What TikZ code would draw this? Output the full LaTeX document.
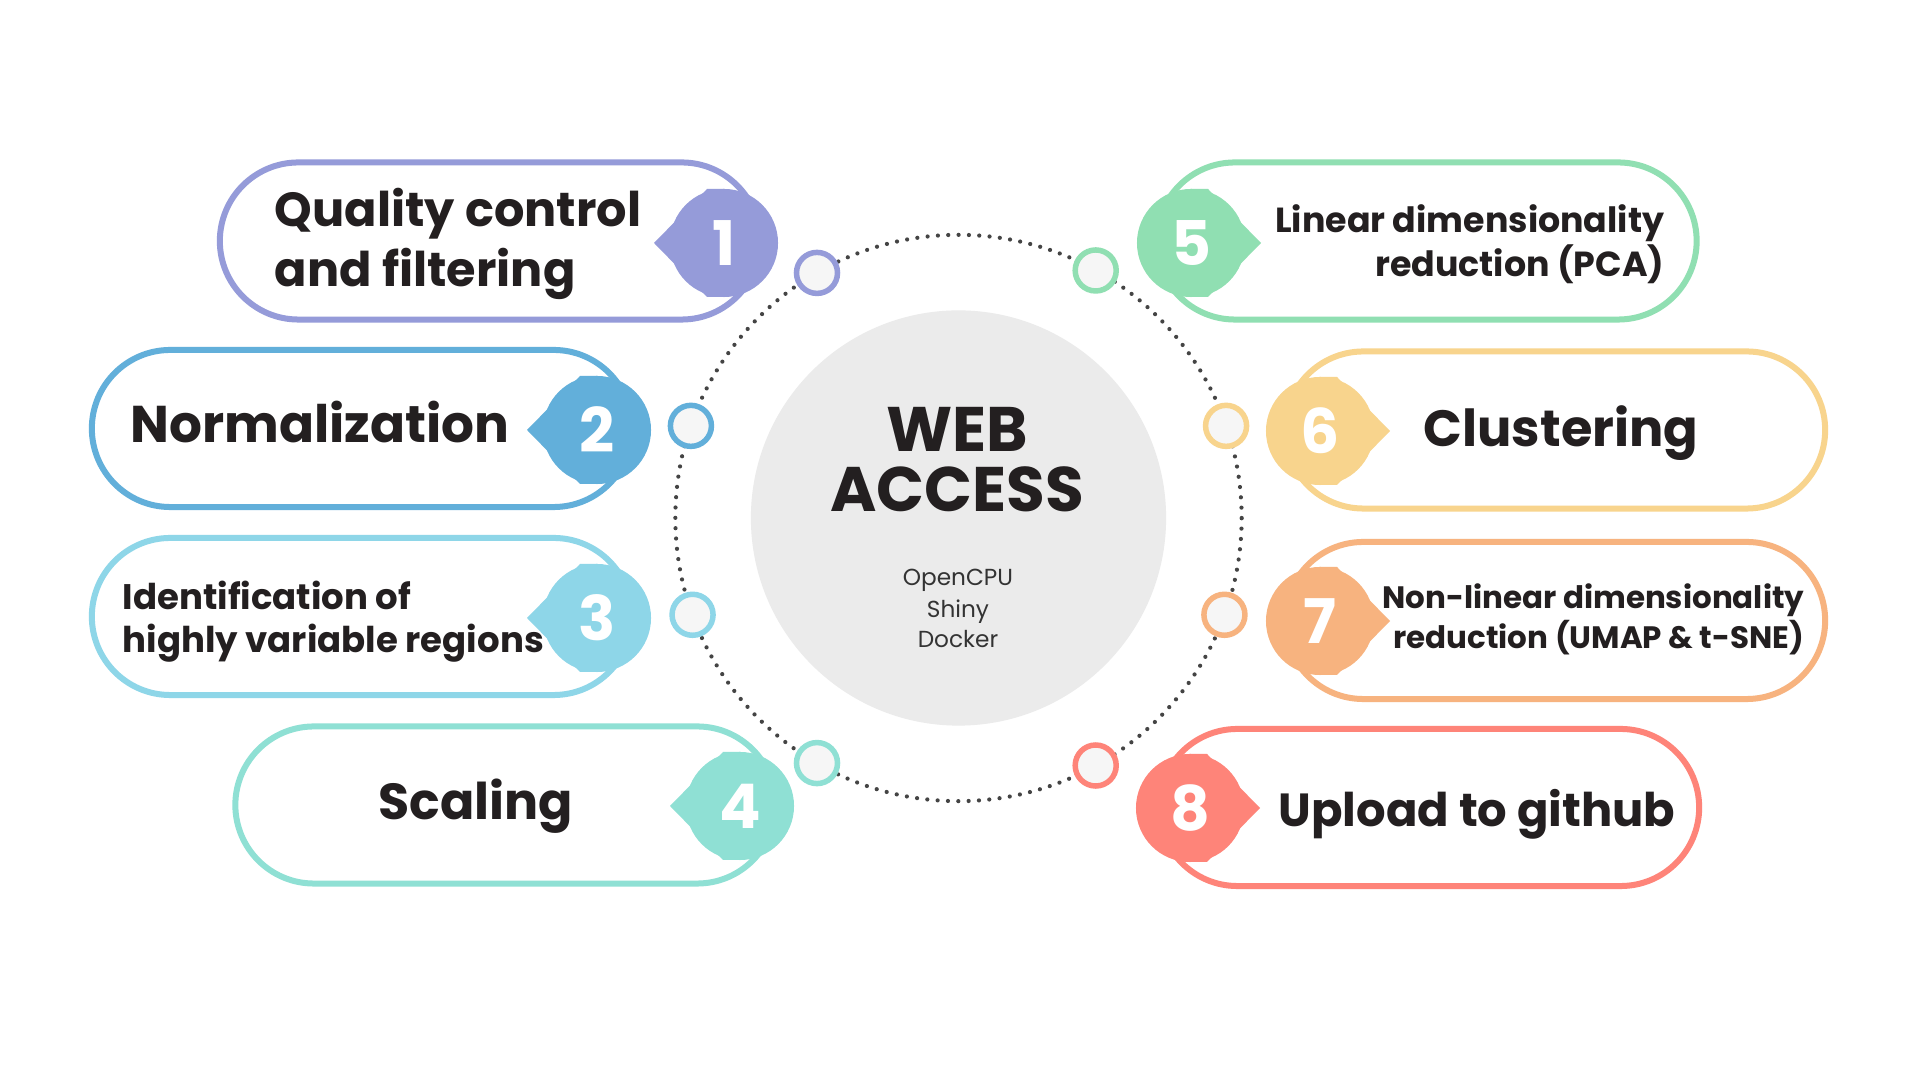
\documentclass[tikz,border=0pt]{standalone}
\usepackage{fontspec}
\setmainfont{Poppins}
\usetikzlibrary{calc}

\definecolor{cOne}{HTML}{959BD9}
\definecolor{cTwo}{HTML}{62AFDA}
\definecolor{cThree}{HTML}{8ED6E8}
\definecolor{cFour}{HTML}{8FE0D4}
\definecolor{cFive}{HTML}{90DFB2}
\definecolor{cSix}{HTML}{F8D48D}
\definecolor{cSeven}{HTML}{F7B37F}
\definecolor{cEight}{HTML}{FE8479}
\definecolor{ink}{HTML}{231F20}
\definecolor{hubgray}{HTML}{EBEBEB}
\definecolor{dotgray}{HTML}{444444}
\definecolor{ringfill}{HTML}{F6F6F6}
\definecolor{notegray}{HTML}{333333}

\tikzset{
  capsule/.style={draw=#1, line width=0.06cm, fill=white, rectangle,
    rounded corners=0.785cm, minimum width=5.40cm, minimum height=1.57cm, inner sep=0pt},
  ringmark/.style={draw=#1, line width=0.055cm, fill=ringfill, circle,
    minimum size=0.41cm, inner sep=0pt},
  numtext/.style={text=white, font=\fontsize{17.5}{17.5}\selectfont\bfseries, inner sep=0pt},
  steplabel/.style={text=ink, font=\fontsize{#1}{#1}\selectfont\bfseries, inner sep=0pt},
  hubtitle/.style={text=ink, font=\fontsize{17.9}{20}\selectfont\bfseries, inner sep=0pt},
  hubnote/.style={text=notegray, font=\fontsize{6.6}{8}\selectfont, inner sep=0pt},
}

% numbered tag: #1 name, #2 centre, #3 tip direction (1 right, -1 left), #4 colour, #5 number
\newcommand\numbadge[5]{%
  \fill[#4] (#2) circle[radius=0.54cm];
  \fill[#4] ($(#2)+(0,-54)$) -- ($(#2)+(#3*17,-54)$) -- ($(#2)+(#3*70,0)$)
    -- ($(#2)+(#3*17,54)$) -- ($(#2)+(0,54)$) -- cycle;
  \node[numtext] (#1) at (#2) {#5};
}

\begin{document}
\begin{tikzpicture}[x=0.01cm,y=-0.01cm]
  \fill[white] (0,0) rectangle (1920,1080);
  \useasboundingbox (0,0) rectangle (1920,1080);

  % step outlines
  \node[capsule=cOne]   (box1) at (490,241)    {};
  \node[capsule=cTwo]   (box2) at (362,428.5)  {};
  \node[capsule=cThree] (box3) at (362,616.5)  {};
  \node[capsule=cFour]  (box4) at (505.5,805) {};
  \node[capsule=cFive]  (box5) at (1426.5,241) {};
  \node[capsule=cSix]   (box6) at (1555,430)   {};
  \node[capsule=cSeven] (box7) at (1555,620.5) {};
  \node[capsule=cEight] (box8) at (1429,807.5) {};

  % numbered tags
  \numbadge{n1}{724,243}{-1}{cOne}{1}
  \numbadge{n2}{597,430}{-1}{cTwo}{2}
  \numbadge{n3}{597,618}{-1}{cThree}{3}
  \numbadge{n4}{740,806}{-1}{cFour}{4}
  \numbadge{n5}{1191,243}{1}{cFive}{5}
  \numbadge{n6}{1320,431}{1}{cSix}{6}
  \numbadge{n7}{1320,621}{1}{cSeven}{7}
  \numbadge{n8}{1190,808}{1}{cEight}{8}

  % central hub and its dotted orbit
  \node[circle, fill=hubgray, minimum size=4.15cm, inner sep=0pt] (hub) at (958.5,518) {};
  \draw[dotgray, line width=0.042cm, line cap=round, dash pattern=on 0pt off 0.10338cm]
    (hub.center) circle[radius=2.83cm];

  % markers on the orbit
  \node[ringmark=cOne]   (m1) at ($(hub.center)+(-120:283)$) {};
  \node[ringmark=cTwo]   (m2) at ($(hub.center)+(-161:283)$) {};
  \node[ringmark=cThree] (m3) at ($(hub.center)+(-200:283)$) {};
  \node[ringmark=cFour]  (m4) at ($(hub.center)+(-240:283)$) {};
  \node[ringmark=cFive]  (m5) at ($(hub.center)+(-61:283)$)  {};
  \node[ringmark=cSix]   (m6) at ($(hub.center)+(-19:283)$)  {};
  \node[ringmark=cSeven] (m7) at ($(hub.center)+(20:283)$)   {};
  \node[ringmark=cEight] (m8) at ($(hub.center)+(61:283)$)   {};

  % hub text
  \node[hubtitle, anchor=base] (webA) at (957,452) {WEB};
  \node[hubtitle, anchor=base] (webB) at (957,512) {ACCESS};
  \node[hubnote, anchor=base] (toolA) at (958,586) {OpenCPU};
  \node[hubnote, anchor=base] (toolB) at (958,618) {Shiny};
  \node[hubnote, anchor=base] (toolC) at (958,648) {Docker};

  % step labels, left column
  \node[steplabel=13.6, anchor=base west] (t1a) at (274,227) {Quality control};
  \node[steplabel=13.6, anchor=base west] (t1b) at (274,287) {and filtering};
  \node[steplabel=14.7, anchor=base west] (t2) at (130,443) {Normalization};
  \node[steplabel=10.1, anchor=base west] (t3a) at (122,610) {Identification of};
  \node[steplabel=10.1, anchor=base west] (t3b) at (122,653) {highly variable regions};
  \node[steplabel=14.4, anchor=base] (t4) at (476,820) {Scaling};

  % step labels, right column
  \node[steplabel=9.9, anchor=base east] (t5a) at (1665,233) {Linear dimensionality};
  \node[steplabel=9.9, anchor=base east] (t5b) at (1665,277) {reduction (PCA)};
  \node[steplabel=14.5, anchor=base west] (t6) at (1423,447) {Clustering};
  \node[steplabel=8.8, anchor=base east] (t7a) at (1805,609) {Non-linear dimensionality};
  \node[steplabel=8.8, anchor=base east] (t7b) at (1805,649) {reduction (UMAP \& t-SNE)};
  \node[steplabel=13.2, anchor=base west] (t8) at (1278,827) {Upload to github};
\end{tikzpicture}
\end{document}
